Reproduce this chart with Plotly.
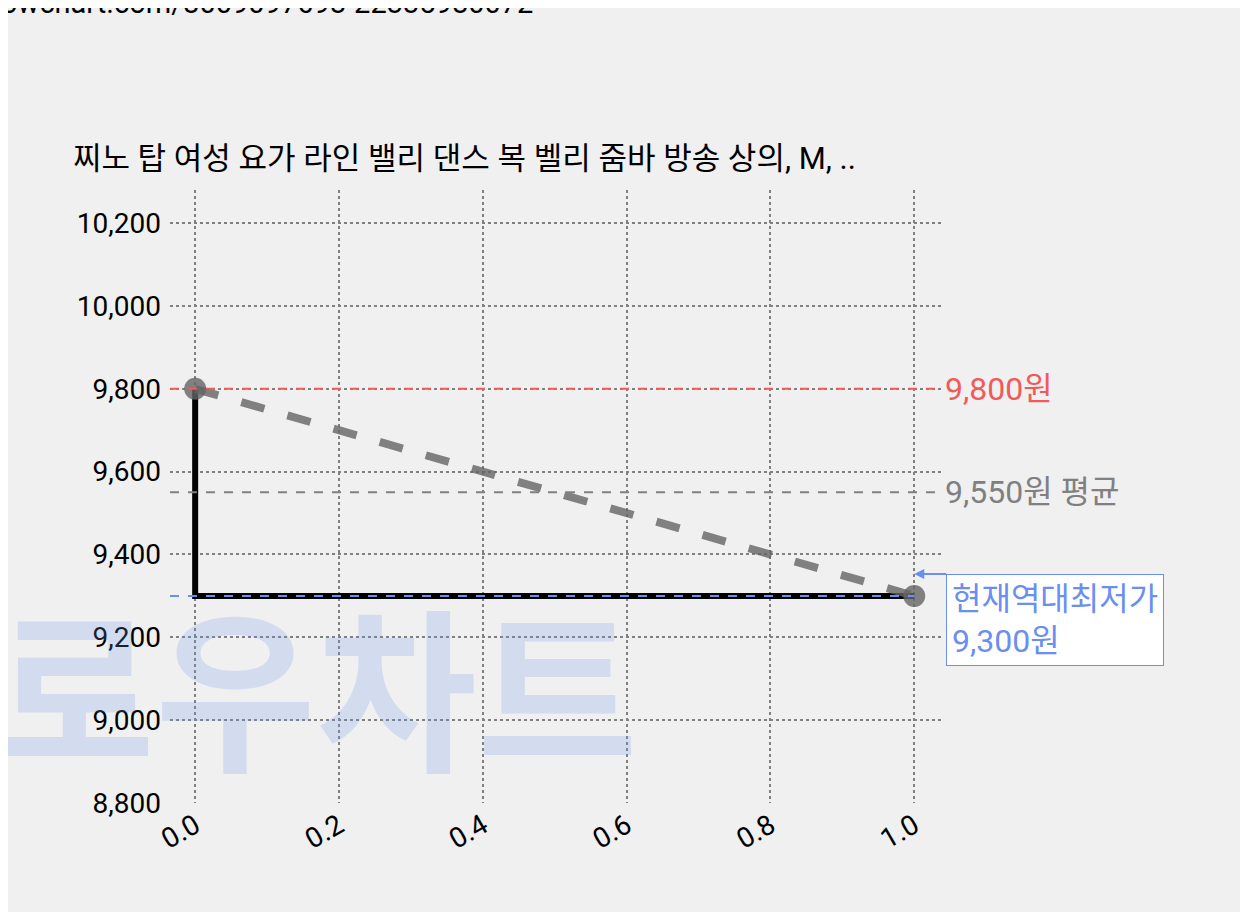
import plotly.graph_objects as go

X = [0.0, 1.0]
PRICES = [9800, 9300]
MAX_PRICE = 9800
AVG_PRICE = 9550
MIN_PRICE = 9300
TITLE = "찌노 탑 여성 요가 라인 밸리 댄스 복 벨리 줌바 방송 상의, M, .."
URL = "lowchart.com/8009097698-22335980072"

FONT = "Roboto, Noto Sans CJK KR"

fig = go.Figure()

# staircase price line
fig.add_trace(go.Scatter(x=X, y=PRICES, mode="lines", line=dict(color="black", width=6, shape="vh"),
                         hoverinfo="skip"))
# trend dashed line
fig.add_trace(go.Scatter(x=X, y=PRICES, mode="lines+markers",
                         line=dict(color="rgba(100,100,100,0.8)", width=8, dash="dash"),
                         marker=dict(size=22, color="rgba(100,100,100,0.8)"), hoverinfo="skip"))

fig.add_shape(type="line", xref="paper", x0=0, x1=1, y0=MAX_PRICE, y1=MAX_PRICE,
              line=dict(color="#f05a5a", width=2, dash="dash"))
fig.add_shape(type="line", xref="paper", x0=0, x1=1, y0=AVG_PRICE, y1=AVG_PRICE,
              line=dict(color="gray", width=2, dash="dash"))
fig.add_shape(type="line", x0=-0.035, x1=X[-1], y0=MIN_PRICE, y1=MIN_PRICE,
              line=dict(color="#6b8ef0", width=2, dash="dash"))

fig.add_annotation(xref="paper", x=1.0, y=MAX_PRICE, text=f"{MAX_PRICE:,}원", showarrow=False,
                   xanchor="left", font=dict(size=32, color="#f05a5a", family=FONT))
fig.add_annotation(xref="paper", x=1.0, y=AVG_PRICE, text=f"{AVG_PRICE:,}원 평균", showarrow=False,
                   xanchor="left", font=dict(size=32, color="gray", family=FONT))
fig.add_annotation(x=X[-1], y=MIN_PRICE, ax=32, ay=0, text=f"현재역대최저가<br>{MIN_PRICE:,}원",
                   showarrow=True, arrowhead=2, arrowcolor="#6b8ef0", arrowwidth=2,
                   xanchor="left", yanchor="top", yshift=22, align="left", bgcolor="white",
                   bordercolor="#6b8ef0", borderwidth=1, borderpad=5,
                   font=dict(size=32, color="#6b8ef0", family=FONT))

# watermark
fig.add_annotation(xref="paper", yref="paper", x=-0.23, y=0.17, text="<b>로우차트</b>", showarrow=False,
                   xanchor="left", yanchor="middle", font=dict(size=175, color="rgba(110,150,230,0.22)", family=FONT))
fig.add_annotation(xref="paper", yref="paper", x=-0.23, y=1.305, text=URL, showarrow=False,
                   xanchor="left", yanchor="middle", font=dict(size=29, color="black", family=FONT))

fig.update_layout(
    width=1248, height=912, showlegend=False,
    paper_bgcolor="#f0f0f0", plot_bgcolor="#f0f0f0",
    margin=dict(l=162, r=313, t=182, b=117),
    title=dict(text=TITLE, x=0.052, xanchor="left", y=0.835, yanchor="middle",
               font=dict(size=31, color="black", family=FONT)),
    font=dict(family=FONT, size=28, color="black"),
    xaxis=dict(range=[-0.035, 1.04], tickvals=[0, 0.2, 0.4, 0.6, 0.8, 1.0], ticktext=["0.0", "0.2", "0.4", "0.6", "0.8", "1.0"],
               tickangle=-30, showgrid=True, gridcolor="gray", griddash="dot", gridwidth=2,
               zeroline=False, showline=False, tickfont=dict(size=28)),
    yaxis=dict(range=[8800, 10280], tickvals=list(range(8800, 10201, 200)), tickformat=",",
               showgrid=True, gridcolor="gray", griddash="dot", gridwidth=2,
               zeroline=False, showline=False, tickfont=dict(size=28), ticklabelstandoff=8),
)

fig.write_html("out.html")
